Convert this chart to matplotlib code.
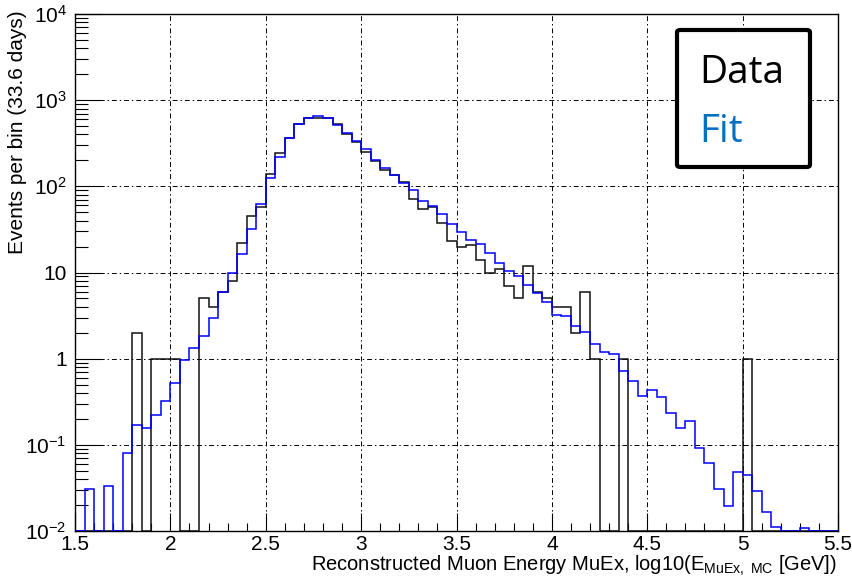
import numpy as np
import matplotlib.pyplot as plt
from matplotlib.ticker import MultipleLocator, LogLocator, FuncFormatter, NullFormatter
from matplotlib.patches import FancyBboxPatch

plt.rcParams['font.family'] = ['Liberation Sans', 'DejaVu Sans']
plt.rcParams['mathtext.fontset'] = 'custom'
plt.rcParams['mathtext.rm'] = 'Liberation Sans'
plt.rcParams['mathtext.it'] = 'Liberation Sans:italic'

# binning: 80 bins of 0.05 in log10(E)
edges = np.round(np.linspace(1.5, 5.5, 81), 3)

# data histogram (events per bin)
data = [0, 0, 0, 0, 0, 0, 2, 0, 1, 1,
        1, 0, 0, 5, 4, 6, 8, 22, 45, 58,
        138, 245, 368, 526, 628, 628, 622, 531, 409, 328,
        247, 197, 156, 134, 112, 72, 54, 58, 38, 23,
        20, 21, 14, 10, 11, 7, 5, 12, 6, 5,
        4, 4, 2, 6, 1, 0, 0, 1, 0, 0,
        0, 0, 0, 0, 0, 0, 0, 0, 0, 0,
        1, 0, 0, 0, 0, 0, 0, 0, 0, 0]

# fit histogram
fit = [0, 0.031, 0, 0.033, 0, 0.081, 0.17, 0.158, 0.221, 0.325,
       0.52, 0.965, 1.33, 1.84, 2.97, 5.96, 9.9, 16.3, 31.8, 62,
       126, 220, 368, 526, 628, 657, 622, 521, 416, 335,
       270, 201, 163, 134, 110, 90, 67.5, 58.5, 47.2, 36.8,
       29.7, 23.6, 21.2, 16.8, 12.9, 10.5, 9.0, 7.2, 5.75, 4.5,
       3.2, 3.1, 2.37, 2.06, 1.49, 1.18, 1.14, 0.72, 0.55, 0.37,
       0.434, 0.363, 0.233, 0.155, 0.19, 0.092, 0.061, 0.0305, 0.0194, 0.049,
       0.045, 0.029, 0.0165, 0.0111, 0, 0, 0.0108, 0, 0, 0]

ytick_labels = {0.01: r'10$^{-2}$', 0.1: r'10$^{-1}$', 1: '1', 10: '10',
                100: r'10$^{2}$', 1000: r'10$^{3}$', 10000: r'10$^{4}$'}

W, H = 852, 582
fig = plt.figure(figsize=(W / 100, H / 100), dpi=100)
ax = fig.add_axes([75 / W, 1 - 531 / H, 763 / W, 517 / H])

ymin = 0.01
ax.stairs(np.maximum(data, ymin), edges, baseline=None, color='#111111', lw=1.1, zorder=3)
ax.stairs(np.maximum(fit, ymin), edges, baseline=None, color='blue', lw=1.1, zorder=4)

ax.set_yscale('log')
ax.set_xlim(1.5, 5.5)
ax.set_ylim(0.01, 1e4)

ax.xaxis.set_major_locator(MultipleLocator(0.5))
ax.xaxis.set_minor_locator(MultipleLocator(0.1))
ax.xaxis.set_major_formatter(FuncFormatter(lambda v, p: f'{v:g}'))
ax.yaxis.set_major_locator(LogLocator(base=10, numticks=10))
ax.yaxis.set_minor_locator(LogLocator(base=10, subs=np.arange(2, 10), numticks=10))
ax.yaxis.set_major_formatter(FuncFormatter(lambda v, p: ytick_labels.get(round(v, 4), '')))
ax.yaxis.set_minor_formatter(NullFormatter())

ax.tick_params(which='both', direction='in', top=False, right=False, width=0.8,
               labelsize=15, colors='k')
ax.tick_params(axis='x', which='major', length=13, pad=3)
ax.tick_params(axis='x', which='minor', length=6)
ax.tick_params(axis='y', which='major', length=19, pad=6)
ax.tick_params(axis='y', which='minor', length=9)
for s in ax.spines.values():
    s.set_linewidth(1.0)

ax.grid(True, which='major', color='k', lw=0.7, ls=(0, (5, 3, 1.5, 3)))

fig.text(837 / W, 1 - 571 / H,
         r'Reconstructed Muon Energy MuEx, log10(E$_{\mathregular{MuEx,\ MC}}$ [GeV])',
         ha='right', va='baseline', fontsize=14.5)
fig.text(18 / W, 1 - 10 / H, 'Events per bin (33.6 days)', rotation=90,
         ha='center', va='top', fontsize=15)

# legend box
box = FancyBboxPatch((677 / W, 1 - 167 / H), 133 / W, 137 / H,
                     boxstyle='round,pad=0,rounding_size=0.004',
                     transform=fig.transFigure, facecolor='white', edgecolor='black',
                     lw=3.0, zorder=6, clip_on=False)
ax.add_patch(box)
ax.text(699 / W, 1 - 83 / H, 'Data', transform=fig.transFigure, fontsize=28,
        family='Open Sans', color='black', va='baseline', zorder=7)
ax.text(699 / W, 1 - 142 / H, 'Fit', transform=fig.transFigure, fontsize=28,
        family='Open Sans', color='#0070C0', va='baseline', zorder=7)

fig.savefig('out.png', dpi=100)
